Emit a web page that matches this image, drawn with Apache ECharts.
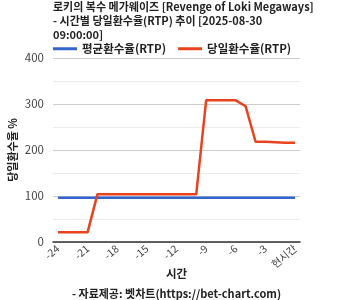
<!DOCTYPE html>
<html><head><meta charset="utf-8">
<script src="https://cdn.jsdelivr.net/npm/echarts@6/dist/echarts.min.js"></script>
<style>html,body{margin:0;padding:0;background:#fff}#c{width:353px;height:300px}</style>
</head><body><div id="c"></div>
<script>
const categories = ['-24','-23','-22','-21','-20','-19','-18','-17','-16','-15','-14','-13','-12','-11','-10','-9','-8','-7','-6','-5','-4','-3','-2','-1','현시간'];
const avgRtp = [96,96,96,96,96,96,96,96,96,96,96,96,96,96,96,96,96,96,96,96,96,96,96,96,96];
const dailyRtp = [21,21,21,21,104,104,104,104,104,104,104,104,104,104,104,308,308,308,308,295,218,218,217,216,216];
const yTicks = [0,100,200,300,400];
const font = '"Noto Sans CJK KR", "Noto Sans", sans-serif';
const chart = echarts.init(document.getElementById('c'));
chart.setOption({
  animation:false,
  textStyle:{fontFamily:font},
  title:[{
    text:'로키의 복수 메가웨이즈 [Revenge of Loki Megaways]\n- 시간별 당일환수율(RTP) 추이 [2025-08-30\n09:00:00]',
    left:53, top:0, padding:0,
    textStyle:{fontSize:11, fontWeight:'bold', color:'#222', lineHeight:14, fontFamily:font}
  },{
    text:'- 자료제공: 벳차트(https://bet-chart.com)',
    left:'center', top:283,
    textStyle:{fontSize:11, fontWeight:'bold', color:'#222', fontFamily:font}
  }],
  legend:{
    left:48, top:38, itemWidth:24, itemHeight:3, itemGap:12,
    icon:'rect',
    textStyle:{fontSize:11.5, fontWeight:'bold', color:'#222', fontFamily:font},
    data:['평균환수율(RTP)','당일환수율(RTP)']
  },
  grid:{left:53, right:53, top:58, bottom:58, containLabel:false, outerBoundsMode:'none'},
  xAxis:{
    type:'category', data:categories, boundaryGap:true,
    name:'시간', nameLocation:'middle', nameGap:26, nameMoveOverlap:false,
    nameTextStyle:{fontSize:11.5, fontWeight:'bold', color:'#222'},
    axisLine:{lineStyle:{color:'#333', width:1.5}},
    axisTick:{show:false},
    axisLabel:{interval:2, rotate:40, fontSize:10.5, color:'#444', margin:5},
    splitLine:{show:false}
  },
  yAxis:{
    type:'value', min:yTicks[0], max:yTicks[yTicks.length-1], interval:100,
    name:'당일환수율 %', nameLocation:'middle', nameGap:35, nameMoveOverlap:false,
    nameTextStyle:{fontSize:11, fontWeight:'bold', color:'#222'},
    axisLine:{show:false}, axisTick:{show:false},
    axisLabel:{fontSize:11.5, color:'#444', margin:9},
    splitLine:{lineStyle:{color:'#ccc'}},
    minorTick:{show:false, splitNumber:2},
    minorSplitLine:{show:true, lineStyle:{color:'#ebebeb'}}
  },
  series:[
    {name:'평균환수율(RTP)', type:'line', data:avgRtp, symbol:'none', color:'#3366cc', lineStyle:{width:2.5, color:'#3366cc'}},
    {name:'당일환수율(RTP)', type:'line', data:dailyRtp, symbol:'none', color:'#e8431e', lineStyle:{width:2.5, color:'#e8431e'}}
  ]
});
</script></body></html>
